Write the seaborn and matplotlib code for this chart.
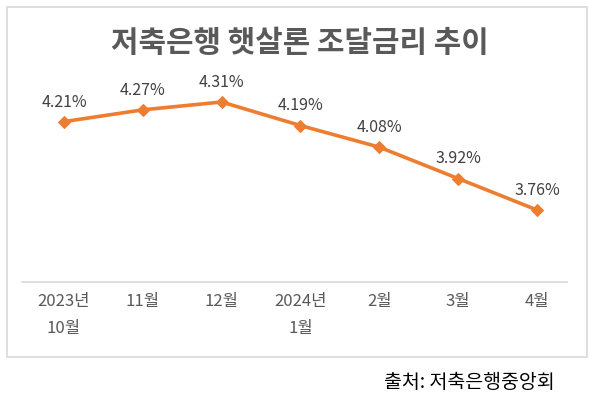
import matplotlib
matplotlib.use('Agg')
from matplotlib import pyplot as plt
from matplotlib.patches import Rectangle
import pandas as pd
import seaborn as sns

# data
months = ['2023년\n10월', '11월', '12월', '2024년\n1월', '2월', '3월', '4월']
rates = [4.21, 4.27, 4.31, 4.19, 4.08, 3.92, 3.76]

df = pd.DataFrame({'pos': range(len(months)), 'rate': rates})

sns.set_style('white')
plt.rcParams['font.family'] = ['Noto Sans CJK KR', 'DejaVu Sans']

W, H = 600, 398
fig = plt.figure(figsize=(W / 100, H / 100), dpi=100)

# outer frame of the chart
fig.patches.append(Rectangle((7 / W, 1 - 357 / H), 580 / W, 350 / H,
                             transform=fig.transFigure, fill=False,
                             edgecolor='#d9d9d9', linewidth=1.2))

ax = fig.add_axes([22 / W, 1 - 282 / H, 545 / W, 217.3 / H])
sns.lineplot(data=df, x='pos', y='rate', ax=ax, color='#ED7D31',
             linewidth=2.6, marker='D', markersize=6.5,
             markeredgecolor='#ED7D31')

# data labels
for x, v in zip(df['pos'], df['rate']):
    ax.annotate(f'{v:.2f}%', (x, v), xytext=(0, 8), textcoords='offset points',
                ha='center', va='bottom', fontsize=11.5, color='#404040')

ax.set_xlim(-0.533, 6.381)
ax.set_ylim(3.393, 4.5)
ax.set_xticks(df['pos'])
ax.set_xticklabels(months, fontsize=12, color='#595959', linespacing=1.75)
ax.tick_params(axis='x', length=0, pad=8)
ax.set_yticks([])
ax.set_xlabel('')
ax.set_ylabel('')
for s in ['top', 'left', 'right']:
    ax.spines[s].set_visible(False)
ax.spines['bottom'].set_color('#d9d9d9')
ax.spines['bottom'].set_linewidth(1.2)
ax.patch.set_alpha(0)

fig.text(0.5, 1 - 43 / H, '저축은행 햇살론 조달금리 추이', ha='center', va='center',
         fontsize=21.5, fontweight='bold', color='#595959')
fig.text(555 / W, 1 - 383 / H, '출처: 저축은행중앙회', ha='right', va='center',
         fontsize=14, color='#000000')

fig.savefig('out.png', dpi=100)
